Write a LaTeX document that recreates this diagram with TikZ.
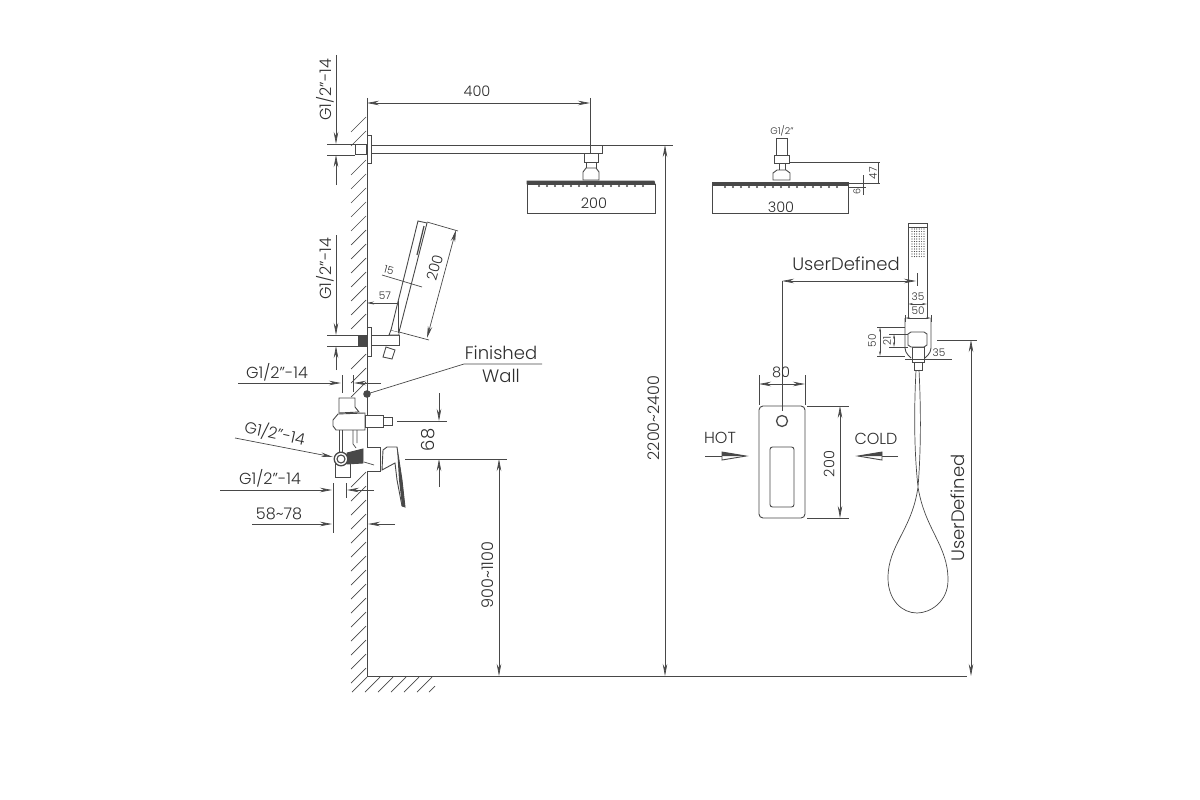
\documentclass[tikz,border=0pt]{standalone}
\usepackage{fontspec}
\setmainfont{Poppins Light}
\usetikzlibrary{arrows.meta}
\definecolor{inkline}{HTML}{484848}
\definecolor{inktext}{HTML}{2E2E2E}
\begin{document}
\begin{tikzpicture}[
        x=1pt, y=-1pt,
        part/.style={draw=inkline, line width=0.9pt, fill=white},
        thin part/.style={draw=inkline, line width=0.7pt},
        dimline/.style={draw=inkline, line width=0.7pt},
        arr/.style={dimline, -{Stealth[length=12pt, width=4.5pt]}},
        darr/.style={dimline, {Stealth[length=12pt, width=4.5pt]}-{Stealth[length=12pt, width=4.5pt]}},
        sarr/.style={dimline, {Stealth[length=5pt, width=2pt]}-{Stealth[length=5pt, width=2pt]}},
        hatchline/.style={draw=inkline, line width=0.7pt},
        lbl/.style={text=inktext, font=\fontsize{14.5}{14.5}\selectfont, inner sep=0pt},
        big lbl/.style={text=inktext, font=\fontsize{18}{18}\selectfont, inner sep=0pt},
        mid lbl/.style={text=inktext, font=\fontsize{16}{16}\selectfont, inner sep=0pt},
        small lbl/.style={text=inktext, font=\fontsize{10.5}{10.5}\selectfont, inner sep=0pt},
        tiny lbl/.style={text=inktext, font=\fontsize{9.5}{9.5}\selectfont, inner sep=0pt}
      ]
      \useasboundingbox (0,0) rectangle (1200,800);

      % wall and floor hatching
      \foreach \y in {117,131} {\draw[hatchline] (366,\y) -- (351,\y+15);}
      \foreach \y in {160,174,...,320} {\draw[hatchline] (366,\y) -- (351,\y+15);}
      \foreach \y in {354,368,382} {\draw[hatchline] (366,\y) -- (351,\y+15);}
      \foreach \y in {472,486,...,670} {\draw[hatchline] (366,\y) -- (351,\y+15);}
      \foreach \x in {367,380,...,432} {\draw[hatchline] (\x,677) -- (\x-15,692);}
      \draw[hatchline] (435,686) -- (429,692);

      % wall and floor lines
      \draw[part, fill=none] (367,98) -- (367,676) -- (967,676);

      % shower arm
      \draw[part] (367,135) rectangle (371,163);
      \draw[part] (371,145) rectangle (602,153);
      \draw[part] (355,144) rectangle (366,154);
      % rain shower 200
      \draw[part] (584,153) rectangle (598,162);
      \draw[part] (586,162) rectangle (596,170);
      \draw[part] (583,172) -- (586,168) -- (596,168) -- (599,172) -- (599,180) -- (583,180) -- cycle;
      \draw[part] (527,184) rectangle (655,213);
      \draw[part, fill=inkline] (527,181) -- (654,181) -- (655,184) -- (527,184) -- cycle;
      \foreach \x in {539,547,...,645} {\fill[inkline] (\x,186) circle (1.1pt);}

      % rain shower 300
      \draw[part] (776,138) rectangle (787,155);
      \draw[part] (774,155) rectangle (789,163);
      \draw[part] (779,163) rectangle (785,170);
      \draw[part] (773,180) -- (773,173) -- (777,170) -- (786,170) -- (790,173) -- (790,180) -- cycle;
      \draw[part] (712,185) rectangle (848,213);
      \draw[part, fill=inkline] (712,182) -- (848,182) -- (848,185) -- (712,185) -- cycle;
      \foreach \x in {725,733,...,840} {\fill[inkline] (\x,187) circle (1.1pt);}

      % hand shower on the wall
      \draw[part] (383,357) -- (386,347) -- (395,350) -- (392,359) -- cycle;
      \draw[part] (370,335) rectangle (399,345);
      \draw[part] (367,327) rectangle (371,356);
      \draw[part, fill=inkline] (358,335) rectangle (366,346);
      \draw[part] (389,335) -- (391,330) -- (399,332) -- (399,335) -- cycle;
      \draw[part] (391,330) -- (418,221) -- (427,223) -- (399,332);
      \draw[part, fill=none, line width=1.2pt] (424,226) -- (417,255);

      % mixer body
      \draw[part] (339,398) -- (355,398) -- (355,407) -- (359,412) -- (339,413) -- cycle;
      \draw[part] (333,420) -- (338,414) -- (365,413) -- (365,430) -- (336,430) -- (333,426) -- cycle;
      \draw[part] (365,415) rectangle (383,427);
      \draw[part] (383,417) rectangle (392,425);
      \draw[thin part] (339,430) -- (339,452) (342,430) -- (342,452);
      \draw[thin part] (353,430) -- (353,444) -- (356,448) (357,430) -- (357,443);
      \draw[part] (335,463) rectangle (350,477);
      \draw[part, fill=inkline] (347,453) -- (363,449) -- (363,463) -- (347,464) -- cycle;
      \draw[part, line width=1.3pt] (341,459) circle (6.8pt);
      \draw[part, line width=1.1pt] (341,459) circle (4pt);
      \draw[part] (367,447) -- (380,447) -- (380,471) -- (367,471);
      \draw[thin part] (364,462) -- (374,465);
      % lever
      \draw[part] (383,450) -- (387,447) -- (397,447) -- (402,480) -- (405,507) -- (402,506) -- (397,480) -- (395,463) -- (382,470) -- cycle;
      \fill[inkline] (397,447) -- (402,480) -- (405,507) -- (402,506) -- (399,480) -- cycle;

      % wall plate
      \draw[part, rounded corners=4pt] (759,406) rectangle (805,518);
      \draw[part, line width=1.3pt] (782,421) circle (5.5pt);
      \draw[part, rounded corners=2.5pt] (770,447) rectangle (794,507);

      % handset and holder on the right
      \draw[part] (908,223) rectangle (927,318);
      \draw[thin part] (908,227) -- (927,227);
      \foreach \x in {912,914.4,...,924} {
        \foreach \y in {229,231.5,...,257} {\fill[inkline] (\x,\y) circle (0.6pt);}
      }
      \draw[part, fill=none, rounded corners=4pt] (905,318) -- (905,352) -- (911,358) (931,318) -- (931,352) -- (925,358);
      \draw[part] (912,347) rectangle (924,362);
      \draw[part] (908,334) -- (911,332) -- (924,332) -- (927,334) -- (927,345) -- (924,347) -- (911,347) -- (908,345) -- cycle;
      \draw[part] (914,362) rectangle (922,370);

      % hose
      \draw[thin part] (916,370) .. controls (914,410) and (914,450) .. (918,487)
        .. controls (925,530) and (948,545) .. (948,580)
        .. controls (948,602) and (930,613) .. (917,613)
        .. controls (902,613) and (888,600) .. (888,578)
        .. controls (888,545) and (912,530) .. (918,487)
        .. controls (921,450) and (921,410) .. (919,370);

      % dimension 400 and heights
      \draw[darr] (367,103) -- (590,103);
      \draw[dimline] (590,98) -- (590,153);
      \node[lbl] (len400) at (477,91) {400};
      \draw[dimline] (600,145) -- (673,145);
      \draw[darr] (665,145) -- (665,676);
      \node[mid lbl, rotate=90] (height2200) at (654,418) {2200\textasciitilde2400};
      \node[lbl] (head200) at (594,203) {200};
      \node[lbl] (head300) at (781,207) {300};

      % thread at the arm
      \draw[dimline] (327,144) -- (355,144) (327,155) -- (355,155);
      \draw[arr] (336,55) -- (336,144);
      \draw[arr] (336,185) -- (336,155);
      \node[mid lbl, rotate=90] (thread1) at (325,90) {G1/2"-14};

      % thread at the holder
      \draw[dimline] (327,335) -- (358,335) (327,346) -- (358,346);
      \draw[arr] (336,235) -- (336,335);
      \draw[arr] (336,370) -- (336,346);
      \node[mid lbl, rotate=90] (thread2) at (325,269) {G1/2"-14};

      % hand shower dimensions
      \draw[dimline] (427,222) -- (458,231) (399,332) -- (429,340);
      \draw[darr] (456,230) -- (427,338);
      \node[lbl, rotate=75] (hand200) at (435,268) {200};
      \draw[dimline] (382,275) -- (422,287);
      \node[small lbl, rotate=-15] (hand15) at (389,270) {15};
      \draw[dimline] (398,301) -- (398,333);
      \draw[dimline, {Stealth[length=7pt, width=3pt]}-] (367,303) -- (398,303);
      \node[small lbl] (hand57) at (385,296) {57};

      % finished wall
      \fill[inkline] (367,394) circle (3.8pt);
      \draw[dimline] (367,394) -- (464,364) -- (542,364);
      \node[big lbl] (finished) at (501,353) {Finished};
      \node[big lbl] (wall) at (501,376) {Wall};

      % left thread dimensions
      \node[mid lbl] (thread3) at (277,372) {G1/2"-14};
      \draw[arr] (238,383) -- (341,383);
      \draw[dimline] (342,375) -- (342,393) (353,375) -- (353,392);
      \draw[arr] (381,383) -- (354,383);
      \node[mid lbl, rotate=-12.5] (thread4) at (275,433) {G1/2"-14};
      \draw[arr] (235,438) -- (333,457);
      \node[mid lbl] (thread5) at (270,478) {G1/2"-14};
      \draw[arr] (220,490) -- (332,490);
      \draw[dimline] (333,483) -- (333,533) (346,483) -- (346,498);
      \draw[arr] (374,490) -- (347,490);
      \node[mid lbl] (range58) at (279,514) {58\textasciitilde78};
      \draw[arr] (252,524) -- (332,524);
      \draw[arr] (395,524) -- (368,524);

      % mixer heights
      \draw[dimline] (397,421) -- (447,421) (405,459) -- (507,459);
      \draw[arr] (439,393) -- (439,421);
      \draw[arr] (439,487) -- (439,459);
      \node[big lbl, rotate=90] (mix68) at (428,440) {68};
      \draw[darr] (499,459) -- (499,676);
      \node[mid lbl, rotate=90] (height900) at (488,575) {900\textasciitilde1100};

      % rain shower 300 dimensions
      \node[tiny lbl] (thread6) at (782,131) {G1/2"};
      \draw[dimline] (789,162) -- (880,162) (848,183) -- (880,183) (848,187) -- (866,187);
      \draw[dimline] (878,162) -- (878,183) (863,175) -- (863,195);
      \node[small lbl, rotate=90] (head47) at (873,173) {47};
      \node[tiny lbl, rotate=90] (head6) at (857,192) {6};

      % user defined lengths
      \node[big lbl] (user1) at (846,264) {UserDefined};
      \draw[darr] (782,281) -- (916,281);
      \draw[dimline] (917,273) -- (917,286);
      \draw[dimline] (782,281) -- (782,411);
      \draw[dimline] (937,340) -- (977,340);
      \draw[darr] (971,340) -- (971,676);
      \node[big lbl, rotate=90] (user2) at (958,508) {UserDefined};

      % plate dimensions
      \draw[dimline] (759,375) -- (759,405) (805,375) -- (805,405);
      \draw[darr] (759,384) -- (805,384);
      \node[lbl] (plate80) at (781,372) {80};
      \draw[dimline] (807,406) -- (849,406) (807,518) -- (849,518);
      \draw[darr] (840,406) -- (840,518);
      \node[lbl, rotate=90] (plate200) at (829,464) {200};

      % hot and cold
      \node[mid lbl] (hot) at (720,438) {HOT};
      \draw[dimline] (705,456) -- (722,456);
      \draw[part] (722,452) -- (746,456) -- (722,460) -- cycle;
      \fill[inkline] (722,452) -- (746,456) -- (722,456) -- cycle;
      \node[mid lbl] (cold) at (876,439) {COLD};
      \draw[dimline] (898,456) -- (882,456);
      \draw[part] (882,452) -- (858,456) -- (882,460) -- cycle;
      \fill[inkline] (882,452) -- (858,456) -- (882,456) -- cycle;

      % handset dimensions
      \node[small lbl] (hold35) at (918,297) {35};
      \draw[sarr] (908,304) -- (927,304);
      \node[small lbl] (hold50) at (918,311) {50};
      \draw[sarr] (905,318) -- (931,318);
      \draw[dimline] (905,315) -- (905,322) (931,315) -- (931,322);
      \draw[dimline] (877,327) -- (905,327) (877,356) -- (905,356) (889,334) -- (908,334) (889,347) -- (908,347);
      \draw[sarr] (880,327) -- (880,356);
      \draw[sarr] (894,334) -- (894,347);
      \node[small lbl, rotate=90] (side50) at (872,341) {50};
      \node[small lbl, rotate=90] (side21) at (887,341) {21};
      \draw[dimline] (905,359) -- (952,359);
      \node[small lbl] (side35) at (939,353) {35};
\end{tikzpicture}
\end{document}
